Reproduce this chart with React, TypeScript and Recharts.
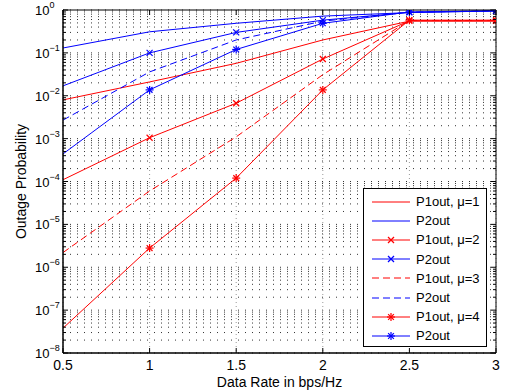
import React from 'react';
import { LineChart, Line, XAxis, YAxis, CartesianGrid, Legend } from 'recharts';

const rates = [0.5, 1, 1.5, 2, 2.5, 3];
const p1mu1 = [8e-3, 2.1e-2, 5.7e-2, 0.2, 0.55, 0.55];
const p2mu1 = [0.13, 0.31, 0.49, 0.72, 0.87, 0.95];
const p1mu2 = [1.1e-4, 1.05e-3, 6.7e-3, 0.072, 0.56, 0.56];
const p2mu2 = [0.017, 0.1, 0.3, 0.58, 0.88, 0.95];
const p1mu3 = [2.2e-6, 6e-5, 1.1e-3, 0.031, 0.57, 0.57];
const p2mu3 = [2.7e-3, 0.036, 0.2, 0.55, 0.89, 0.96];
const p1mu4 = [3.8e-8, 2.8e-6, 1.2e-4, 0.0137, 0.58, 0.58];
const p2mu4 = [4.4e-4, 0.0137, 0.12, 0.49, 0.9, 0.96];

const xTicks = [0.5, 1, 1.5, 2, 2.5, 3];
const xTickLabels = ['0.5', '1', '1.5', '2', '2.5', '3'];
const decades = [1e-8, 1e-7, 1e-6, 1e-5, 1e-4, 1e-3, 1e-2, 1e-1, 1];
const decadeLabels = ['−8', '−7', '−6', '−5', '−4', '−3', '−2', '−1', '0'];
const minorMult = [2, 3, 4, 5, 6, 7, 8, 9];

const yTicks: number[] = [];
decades.forEach((d, i) => {
  yTicks.push(d);
  if (i < decades.length - 1) minorMult.forEach((m) => yTicks.push(d * m));
});

const series = [
  { key: 'p1mu1', name: 'P1out, μ=1', color: '#ff0000', dash: undefined, marker: 'none', vals: p1mu1 },
  { key: 'p2mu1', name: 'P2out', color: '#0000ff', dash: undefined, marker: 'none', vals: p2mu1 },
  { key: 'p1mu2', name: 'P1out, μ=2', color: '#ff0000', dash: undefined, marker: 'x', vals: p1mu2 },
  { key: 'p2mu2', name: 'P2out', color: '#0000ff', dash: undefined, marker: 'x', vals: p2mu2 },
  { key: 'p1mu3', name: 'P1out, μ=3', color: '#ff0000', dash: '7 4', marker: 'none', vals: p1mu3 },
  { key: 'p2mu3', name: 'P2out', color: '#0000ff', dash: '7 4', marker: 'none', vals: p2mu3 },
  { key: 'p1mu4', name: 'P1out, μ=4', color: '#ff0000', dash: undefined, marker: 'star', vals: p1mu4 },
  { key: 'p2mu4', name: 'P2out', color: '#0000ff', dash: undefined, marker: 'star', vals: p2mu4 },
];

const data = rates.map((x, i) => {
  const row: Record<string, number> = { x };
  series.forEach((s) => (row[s.key] = s.vals[i]));
  return row;
});

const FONT = '"Liberation Sans", Arial, Helvetica, sans-serif';

function Marker({ cx, cy, color, type }: { cx: number; cy: number; color: string; type: string }) {
  if (type === 'x') {
    const r = 3;
    return (
      <g stroke={color} strokeWidth={1.2}>
        <line x1={cx - r} y1={cy - r} x2={cx + r} y2={cy + r} />
        <line x1={cx - r} y1={cy + r} x2={cx + r} y2={cy - r} />
      </g>
    );
  }
  if (type === 'star') {
    const r = 4;
    const d = 2.9;
    return (
      <g stroke={color} strokeWidth={1.2}>
        <line x1={cx - r} y1={cy} x2={cx + r} y2={cy} />
        <line x1={cx} y1={cy - r} x2={cx} y2={cy + r} />
        <line x1={cx - d} y1={cy - d} x2={cx + d} y2={cy + d} />
        <line x1={cx - d} y1={cy + d} x2={cx + d} y2={cy - d} />
      </g>
    );
  }
  return null;
}

const isMajor = (v: number) => Math.abs(Math.log10(v) - Math.round(Math.log10(v))) < 1e-9;

const LeftTick = (props: any) => {
  const { x, y, payload } = props;
  const v = payload.value;
  const major = isMajor(v);
  const idx = decades.findIndex((d) => Math.abs(Math.log10(d) - Math.log10(v)) < 1e-9);
  return (
    <g>
      <line x1={x} y1={y} x2={x + (major ? 5 : 3)} y2={y} stroke="#000" strokeWidth={1} />
      {major && idx >= 0 ? (
        <text x={x - 28} y={y + 5} textAnchor="start" fontFamily={FONT} fontSize={13} fill="#000">
          10
          <tspan dy={-7} fontSize={9}>
            {decadeLabels[idx]}
          </tspan>
        </text>
      ) : null}
    </g>
  );
};

const RightTick = (props: any) => {
  const { x, y, payload } = props;
  const major = isMajor(payload.value);
  return <line x1={x} y1={y} x2={x - (major ? 5 : 3)} y2={y} stroke="#000" strokeWidth={1} />;
};

const BottomTick = (props: any) => {
  const { x, y, payload, index } = props;
  return (
    <g>
      <line x1={x} y1={y} x2={x} y2={y - 5} stroke="#000" strokeWidth={1} />
      <text x={x} y={y + 17} textAnchor="middle" fontFamily={FONT} fontSize={14} fill="#000">
        {xTickLabels[index] ?? String(payload.value)}
      </text>
    </g>
  );
};

const TopTick = (props: any) => {
  const { x, y } = props;
  return <line x1={x} y1={y} x2={x} y2={y + 5} stroke="#000" strokeWidth={1} />;
};

const LegendBox = () => (
  <div
    style={{
      width: 124,
      height: 159,
      boxSizing: 'border-box',
      border: '1px solid #000',
      background: '#fff',
      paddingTop: 3,
      fontFamily: FONT,
      fontSize: 13,
      color: '#000',
    }}
  >
    {series.map((s) => (
      <div key={s.key} style={{ height: 19.2, display: 'flex', alignItems: 'center' }}>
        <svg width={38} height={12} style={{ marginLeft: 8, marginRight: 6, flex: 'none' }}>
          <line x1={0} y1={6} x2={38} y2={6} stroke={s.color} strokeWidth={1} strokeDasharray={s.dash} />
          <Marker cx={19} cy={6} color={s.color} type={s.marker} />
        </svg>
        <span style={{ whiteSpace: 'nowrap', lineHeight: '19px' }}>{s.name}</span>
      </div>
    ))}
  </div>
);

export default function App() {
  return (
    <div style={{ position: 'absolute', left: 0, top: 0, background: '#fff' }}>
      <LineChart width={507} height={392} data={data} margin={{ top: 0, right: 0, bottom: 0, left: 0 }}>
        <CartesianGrid vertical={false} stroke="#333" strokeDasharray="1 6" />
        <CartesianGrid horizontal={false} stroke="#999" strokeDasharray="1 3" />
        <XAxis
          dataKey="x"
          type="number"
          domain={[0.5, 3]}
          ticks={xTicks}
          interval={0}
          height={39}
          tickSize={0}
          tickMargin={0}
          tickLine={false}
          axisLine={{ stroke: '#000', strokeWidth: 1.5 }}
          tick={<BottomTick />}
          allowDataOverflow
          label={{
            value: 'Data Rate in bps/Hz',
            position: 'insideBottom',
            offset: 5,
            style: { fontFamily: FONT, fontSize: 14, fill: '#000' },
          }}
        />
        <XAxis
          xAxisId="top"
          dataKey="x"
          type="number"
          orientation="top"
          domain={[0.5, 3]}
          ticks={xTicks}
          interval={0}
          height={10}
          tickSize={0}
          tickMargin={0}
          tickLine={false}
          axisLine={{ stroke: '#000', strokeWidth: 1 }}
          tick={<TopTick />}
          allowDataOverflow
        />
        <YAxis
          scale="log"
          domain={[1e-8, 1]}
          ticks={yTicks}
          interval={0}
          width={63}
          tickSize={0}
          tickMargin={0}
          tickLine={false}
          axisLine={{ stroke: '#000', strokeWidth: 1.5 }}
          tick={<LeftTick />}
          allowDataOverflow
          label={{
            value: 'Outage Probability',
            angle: -90,
            position: 'insideLeft',
            offset: 21,
            style: { fontFamily: FONT, fontSize: 14, fill: '#000', textAnchor: 'middle' },
          }}
        />
        <YAxis
          yAxisId="right"
          orientation="right"
          scale="log"
          domain={[1e-8, 1]}
          ticks={yTicks}
          interval={0}
          width={11}
          tickSize={0}
          tickMargin={0}
          tickLine={false}
          axisLine={{ stroke: '#000', strokeWidth: 1 }}
          tick={<RightTick />}
          allowDataOverflow
        />
        <Legend
          layout="vertical"
          align="center"
          verticalAlign="middle"
          content={<LegendBox />}
          wrapperStyle={{ position: 'absolute', left: 363, top: 188, width: 124, height: 159 }}
        />
        {series.map((s) => (
          <Line
            key={s.key}
            dataKey={s.key}
            name={s.name}
            type="linear"
            stroke={s.color}
            strokeWidth={1}
            strokeDasharray={s.dash}
            isAnimationActive={false}
            dot={(p: any) => {
              if (s.marker === 'none' || p.payload.x === rates[0] || p.cx == null) return <g key={p.key ?? p.index} />;
              return (
                <g key={p.key ?? p.index}>
                  <Marker cx={p.cx} cy={p.cy} color={s.color} type={s.marker} />
                </g>
              );
            }}
            activeDot={false}
          />
        ))}
      </LineChart>
    </div>
  );
}
